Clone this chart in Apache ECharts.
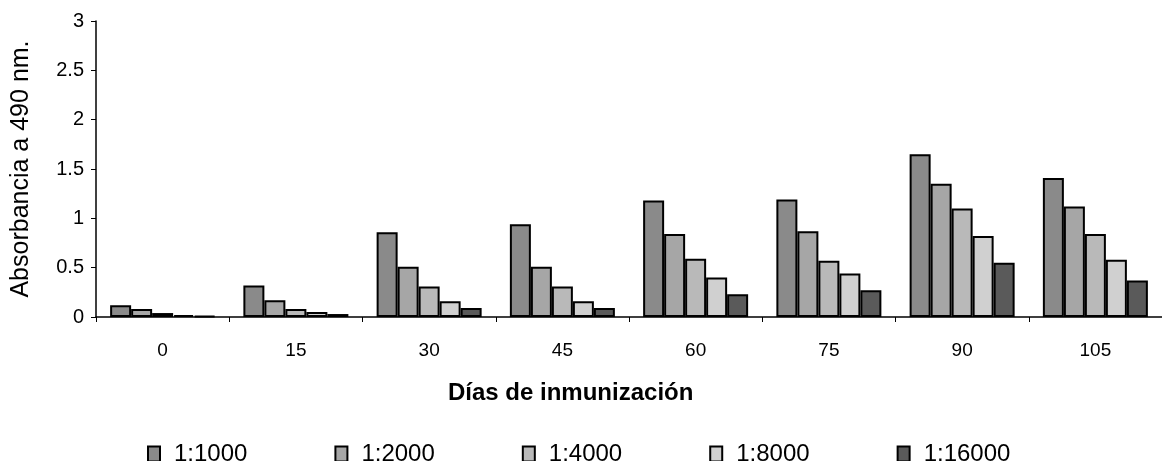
<!DOCTYPE html>
<html>
<head>
<meta charset="utf-8">
<script src="https://cdn.jsdelivr.net/npm/echarts@6/dist/echarts.min.js"></script>
<style>html,body{margin:0;padding:0;background:#fff;}#c{width:1162px;height:461px;}</style>
</head>
<body>
<div id="c"></div>
<script>
var categories = ['0', '15', '30', '45', '60', '75', '90', '105'];
var seriesNames = ['1:1000', '1:2000', '1:4000', '1:8000', '1:16000'];
var s1000 = [0.12, 0.32, 0.86, 0.94, 1.18, 1.19, 1.65, 1.41];
var s2000 = [0.08, 0.17, 0.51, 0.51, 0.84, 0.87, 1.35, 1.12];
var s4000 = [0.04, 0.08, 0.31, 0.31, 0.59, 0.57, 1.10, 0.84];
var s8000 = [0.02, 0.05, 0.16, 0.16, 0.40, 0.44, 0.82, 0.58];
var s16000 = [0.01, 0.03, 0.09, 0.09, 0.23, 0.27, 0.55, 0.37];
var yTicks = [0, 0.5, 1, 1.5, 2, 2.5, 3];

var allData = [s1000, s2000, s4000, s8000, s16000];
var colors = ['#8a8a8a', '#a6a6a6', '#b9b9b9', '#d0d0d0', '#5a5a5a'];
var font = 'Liberation Sans, Arial, sans-serif';

var chart = echarts.init(document.getElementById('c'), null, {renderer: 'canvas'});
var series = seriesNames.map(function (n, i) {
  return {
    name: n,
    type: 'bar',
    data: allData[i],
    barWidth: 21,
    barGap: '0%',
    itemStyle: {color: colors[i], borderColor: '#000', borderWidth: 2},
    emphasis: {disabled: true}
  };
});

chart.setOption({
  animation: false,
  backgroundColor: '#fff',
  color: colors,
  title: {
    text: 'Días de inmunización',
    left: 443,
    top: 376,
    textStyle: {fontFamily: font, fontWeight: 'bold', fontSize: 24, color: '#000'}
  },
  legend: {
    data: seriesNames,
    left: 142,
    top: 437,
    icon: 'rect',
    itemWidth: 12,
    itemHeight: 15,
    itemGap: 87,
    textStyle: {fontFamily: font, fontSize: 24, color: '#000', padding: [0, 0, 0, 9]}
  },
  grid: {left: 96, top: 21, width: 1072, height: 296, containLabel: false},
  xAxis: {
    type: 'category',
    data: categories,
    axisLine: {lineStyle: {color: '#000', width: 1.5}},
    axisTick: {show: true, length: 5, lineStyle: {color: '#000'}},
    axisLabel: {fontFamily: font, fontSize: 19, color: '#000', margin: 24}
  },
  yAxis: {
    type: 'value',
    min: yTicks[0],
    max: yTicks[yTicks.length - 1],
    interval: 0.5,
    name: 'Absorbancia a 490 nm.',
    nameLocation: 'middle',
    nameGap: 62,
    nameTextStyle: {fontFamily: font, fontSize: 25, color: '#000'},
    axisLine: {show: true, lineStyle: {color: '#000', width: 1.5}},
    axisTick: {show: true, length: 5, lineStyle: {color: '#000'}},
    splitLine: {show: false},
    axisLabel: {fontFamily: font, fontSize: 20, color: '#000', margin: 12}
  },
  series: series
});
</script>
</body>
</html>
